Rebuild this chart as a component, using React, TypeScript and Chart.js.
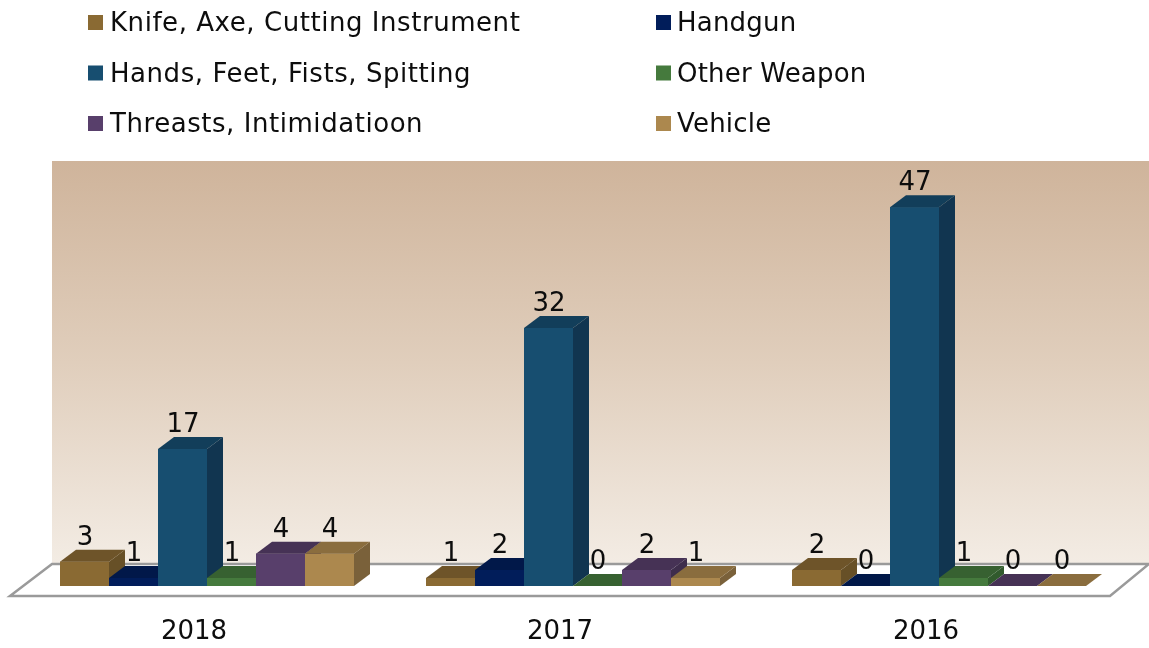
import React, { useEffect, useRef } from "react";
import { Chart, registerables } from "chart.js";

Chart.register(...registerables);

const categories = ["2018", "2017", "2016"];
const knife = [3, 1, 2];
const handgun = [1, 2, 0];
const hands = [17, 32, 47];
const otherWeapon = [1, 0, 1];
const threats = [4, 2, 0];
const vehicle = [4, 1, 0];

const seriesNames = [
  "Knife, Axe, Cutting Instrument",
  "Handgun",
  "Hands, Feet, Fists, Spitting",
  "Other Weapon",
  "Threasts, Intimidatioon",
  "Vehicle",
];
const frontColors = ["#8A6A33", "#011D5A", "#174E70", "#457A3D", "#583F6B", "#AC884E"];
const topColors = ["#6E5429", "#011849", "#123E5A", "#376131", "#463255", "#8A6D3E"];
const sideColors = ["#675027", "#011642", "#113550", "#315A2D", "#3E2D4C", "#7A613A"];

const TEXT = "#0D0D0D";
const FONT = '26px "DejaVu Sans"';
const DX = 16;
const DY = 12;

const poly = (ctx: CanvasRenderingContext2D, pts: number[][], fill: string) => {
  ctx.beginPath();
  pts.forEach((p, i) => (i ? ctx.lineTo(p[0], p[1]) : ctx.moveTo(p[0], p[1])));
  ctx.closePath();
  ctx.fillStyle = fill;
  ctx.fill();
};

const scenePlugin = {
  id: "scene3d",
  beforeDatasetsDraw(chart: any) {
    const { ctx, chartArea: a } = chart;
    const wallL = a.left + 28;
    const wallR = chart.width;
    const wallT = a.top - 22;
    const wallB = a.bottom - 22;
    const g = ctx.createLinearGradient(0, wallT, 0, wallB);
    g.addColorStop(0, "#CFB49B");
    g.addColorStop(0.5, "#E0CEBC");
    g.addColorStop(1, "#F3ECE4");
    ctx.save();
    ctx.fillStyle = g;
    ctx.fillRect(wallL, wallT, wallR - wallL, wallB - wallT);
    ctx.beginPath();
    ctx.moveTo(wallL, wallB);
    ctx.lineTo(wallR, wallB);
    ctx.lineTo(a.right - 12, a.bottom + 10);
    ctx.lineTo(a.left - 14, a.bottom + 10);
    ctx.closePath();
    ctx.fillStyle = "#FFFFFF";
    ctx.fill();
    ctx.strokeStyle = "#9A9A9A";
    ctx.lineWidth = 2.5;
    ctx.stroke();
    ctx.restore();
  },
  afterDatasetsDraw(chart: any) {
    const { ctx } = chart;
    ctx.save();
    chart.data.datasets.forEach((_: any, i: number) => {
      chart.getDatasetMeta(i).data.forEach((bar: any) => {
        const { x, y, base, width } = bar.getProps(["x", "y", "base", "width"], true);
        const l = x - width / 2;
        const r = x + width / 2;
        bar.draw(ctx);
        poly(ctx, [[r, y], [r + DX, y - DY], [r + DX, base - DY], [r, base]], sideColors[i]);
        poly(ctx, [[l, y], [r, y], [r + DX, y - DY], [l + DX, y - DY]], topColors[i]);
      });
    });
    ctx.font = FONT;
    ctx.fillStyle = TEXT;
    ctx.textAlign = "center";
    ctx.textBaseline = "alphabetic";
    chart.data.datasets.forEach((ds: any, i: number) => {
      chart.getDatasetMeta(i).data.forEach((bar: any, j: number) => {
        const { x, y } = bar.getProps(["x", "y"], true);
        ctx.fillText(String(ds.data[j]), x + 0.5, y - 17);
      });
    });
    // legend: two columns, three rows
    ctx.textAlign = "left";
    chart.data.datasets.forEach((ds: any, i: number) => {
      const col = i % 2;
      const row = Math.floor(i / 2);
      const sx = col ? 656 : 88;
      const sy = 15 + row * 50.5;
      ctx.fillStyle = ds.backgroundColor;
      ctx.fillRect(sx, sy, 15, 15);
      ctx.fillStyle = TEXT;
      (ctx as any).letterSpacing = col ? "0.2px" : "0.55px";
      ctx.fillText(ds.label, sx + (col ? 21 : 22), sy + 16);
    });
    ctx.restore();
  },
};

export default function App() {
  const ref = useRef<HTMLCanvasElement>(null);
  useEffect(() => {
    document.body.style.margin = "0";
    const seriesValues = [knife, handgun, hands, otherWeapon, threats, vehicle];
    const chart = new Chart(ref.current!, {
      type: "bar",
      data: {
        labels: categories,
        datasets: seriesValues.map((data, i) => ({
          label: seriesNames[i],
          data,
          backgroundColor: frontColors[i],
          borderWidth: 0,
          barPercentage: 1,
          categoryPercentage: 294 / 366,
        })),
      },
      options: {
        responsive: false,
        animation: false,
        events: [],
        layout: { padding: { left: 24, right: 27, top: 183, bottom: 0 } },
        plugins: { legend: { display: false }, tooltip: { enabled: false }, title: { display: false } },
        scales: {
          x: {
            grid: { display: false },
            border: { display: false },
            ticks: {
              color: TEXT,
              font: { family: "DejaVu Sans", size: 26 },
              padding: 23,
              labelOffset: -13,
              maxRotation: 0,
            },
            afterFit: (s: any) => {
              s.height = 62;
            },
          },
          y: { display: false, min: 0, max: 50 },
        },
      },
      plugins: [scenePlugin],
    } as any);
    return () => chart.destroy();
  }, []);
  return (
    <div style={{ width: 1149, height: 648, overflow: "hidden" }}>
      <canvas ref={ref} width={1149} height={648} style={{ display: "block" }} />
    </div>
  );
}
